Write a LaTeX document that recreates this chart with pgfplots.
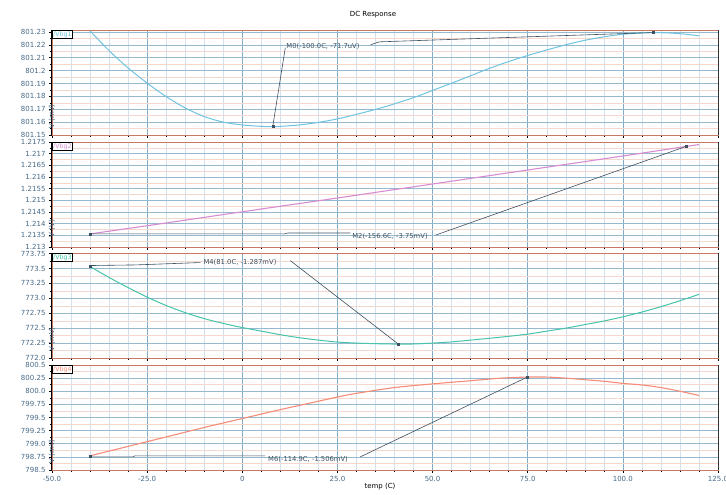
\documentclass[border=0pt]{standalone}
\usepackage{fontspec}
\setmainfont{DejaVu Sans}
\usepackage{pgfplots}
\pgfplotsset{compat=1.18}
\usepackage{pgfplotstable}
\definecolor{cA}{RGB}{110,195,225}
\definecolor{cB}{RGB}{215,140,210}
\definecolor{cC}{RGB}{70,195,170}
\definecolor{cD}{RGB}{245,140,120}
\definecolor{tickc}{RGB}{70,105,135}
\definecolor{frame}{RGB}{200,120,100}
\definecolor{hgrid}{RGB}{150,185,205}
\definecolor{vgrid}{RGB}{130,172,198}
\definecolor{mgridh}{RGB}{244,216,205}
\definecolor{mgridv}{RGB}{208,224,236}
\definecolor{mk}{RGB}{60,80,95}

\pgfplotstableread{
t v
-40 801.2308
-35 801.2155
-30 801.2020
-25 801.1903
-20 801.1798
-15 801.1710
-10 801.1643
-5 801.1600
0 801.1578
5 801.1567
8 801.1565
10 801.1567
15 801.1578
20 801.1598
25 801.1625
30 801.1660
37 801.1715
45 801.1790
50 801.1846
55 801.1902
60 801.1960
65 801.2018
70 801.2070
75 801.2117
80 801.2160
85 801.2200
90 801.2235
95 801.2262
100 801.2282
105 801.2292
108 801.2295
112 801.2292
116 801.2284
120 801.2270
}\vbgA

\pgfplotstableread{
t v
-40 1.21356
-20 1.21403
0 1.21451
25 1.21510
50 1.21570
75 1.21630
100 1.21690
116.6 1.21731
120 1.21739
}\vbgB

\pgfplotstableread{
t v
-40 773.533
-35 773.35
-30 773.18
-25 773.02
-20 772.88
-15 772.76
-10 772.66
-5 772.58
0 772.51
5 772.45
10 772.39
15 772.34
20 772.30
25 772.267
30 772.25
35 772.24
41 772.233
45 772.235
50 772.25
55 772.27
60 772.30
68 772.35
75 772.40
80 772.45
85 772.50
90 772.56
95 772.62
100 772.69
105 772.77
110 772.86
115 772.96
120 773.067
}\vbgC

\pgfplotstableread{
t v
-40 798.77
-35 798.86
-30 798.95
-25 799.04
-20 799.13
-10 799.31
0 799.48
10 799.65
20 799.81
25 799.89
30 799.96
40 800.07
50 800.14
60 800.20
68 800.25
74.9 800.27
80 800.27
85 800.25
90 800.22
95 800.19
100 800.15
105 800.12
110 800.07
115 800.00
120 799.92
}\vbgD

\pgfplotsset{
  panel/.style={
    scale only axis, width=666pt, height=105pt,
    xmin=-50, xmax=125,
    xtick={-50,-25,0,25,50,75,100,125},
    minor x tick num=4, minor y tick num=1,
    xmajorgrids, ymajorgrids, xminorgrids, yminorgrids,
    major x grid style={vgrid, line width=0.6pt},
    minor x grid style={mgridv, line width=0.4pt},
    major y grid style={hgrid, line width=0.6pt},
    minor y grid style={mgridh, line width=0.4pt},
    axis line style={frame, line width=0.7pt},
    tick style={black, line width=0.5pt},
    major tick length=3pt, minor tick length=2pt,
    tick align=outside,
    xtick pos=bottom, ytick pos=left,
    ticklabel style={font=\fontsize{7}{8}\selectfont, text=tickc},
    ylabel style={at={(axis description cs:0,0.5)}, anchor=center, xshift=-34pt, font=\fontsize{7}{8}\selectfont, text=tickc},
    xticklabels={},
    clip=false,
  },
  mline/.style={mk, line width=0.6pt},
  mdot/.style={only marks, mark=square*, mark size=1pt, mk},
}
\tikzset{
  mlab/.style={font=\fontsize{6.8}{8}\selectfont, text=mk, inner sep=1pt},
  tab/.style={draw=black, fill=white, font=\fontsize{6.3}{7}\selectfont, inner sep=1pt, anchor=north west, line width=0.5pt},
}

\begin{document}
\begin{tikzpicture}
\useasboundingbox (-52pt,-25pt) rectangle (674pt,470pt);

% Panel 4 (bottom)
\begin{axis}[panel, at={(0pt,0pt)}, anchor=south west,
  ymin=798.5, ymax=800.5,
  ytick={798.5,798.75,799.0,799.25,799.5,799.75,800.0,800.25,800.5},
  yticklabels={798.5,798.75,799.0,799.25,799.5,799.75,800.0,800.25,800.5},
  xticklabels={-50.0,-25.0,0,25.0,50.0,75.0,100.0,125.0},
  ylabel={V (mV)},
  xlabel={temp (C)},
  xlabel style={at={(axis description cs:0.4925,0)}, anchor=center, yshift=-17pt, font=\fontsize{7}{8}\selectfont, text=black},
]
\addplot[cD, line width=1.1pt, smooth] table[x=t,y=v] {\vbgD};
\addplot[mline] coordinates {(-40,798.75) (-28.7,798.75) (-28.2,798.77) (6,798.77)};
\addplot[mline] coordinates {(31,798.75) (74.9,800.27)};
\addplot[mdot] coordinates {(-40,798.77) (74.9,800.27)};
\node[mlab, anchor=west] at (axis cs:6.5,798.71) {M6(-114.9C, -1.506mV)};
\node[tab, text=cD] at (rel axis cs:0,1) {/Vbg4};
\draw[black, line width=1pt] (rel axis cs:0,0) -- (rel axis cs:0,1);
\draw[black!80, line width=0.8pt] (rel axis cs:1,0) -- (rel axis cs:1,1);
\end{axis}

% Panel 3
\begin{axis}[panel, at={(0pt,112pt)}, anchor=south west,
  ymin=772.0, ymax=773.76,
  ytick={772.0,772.25,772.5,772.75,773.0,773.25,773.5,773.75},
  yticklabels={772.0,772.25,772.5,772.75,773.0,773.25,773.5,773.75},
  ylabel={V (mV)},
]
\addplot[cC, line width=1pt, smooth] table[x=t,y=v] {\vbgC};
\addplot[mline] coordinates {(-40,773.55) (-28,773.56) (-11,773.60)};
\addplot[mline] coordinates {(12.6,773.633) (41,772.233)};
\addplot[mdot] coordinates {(-40,773.533) (41,772.233)};
\node[mlab, anchor=west] at (axis cs:-10.5,773.60) {M4(81.0C, -1.287mV)};
\node[tab, text=cC] at (rel axis cs:0,1) {/Vbg3};
\draw[black, line width=1pt] (rel axis cs:0,0) -- (rel axis cs:0,1);
\draw[black!80, line width=0.8pt] (rel axis cs:1,0) -- (rel axis cs:1,1);
\end{axis}

% Panel 2
\begin{axis}[panel, at={(0pt,223pt)}, anchor=south west,
  ymin=1.213, ymax=1.2175,
  ytick={1.213,1.2135,1.214,1.2145,1.215,1.2155,1.216,1.2165,1.217,1.2175},
  yticklabels={1.213,1.2135,1.214,1.2145,1.215,1.2155,1.216,1.2165,1.217,1.2175},
  ylabel={V (V)},
]
\addplot[cB, line width=1.1pt, smooth] table[x=t,y=v] {\vbgB};
\addplot[mline] coordinates {(-40,1.21356) (11,1.21356) (12,1.21360) (28.4,1.21360)};
\addplot[mline] coordinates {(50.8,1.21351) (116.6,1.21731)};
\addplot[mdot] coordinates {(-40,1.21356) (116.6,1.21731)};
\node[mlab, anchor=west] at (axis cs:28.6,1.21345) {M2(-156.6C, -3.75mV)};
\node[tab, text=cB] at (rel axis cs:0,1) {/Vbg2};
\draw[black, line width=1pt] (rel axis cs:0,0) -- (rel axis cs:0,1);
\draw[black!80, line width=0.8pt] (rel axis cs:1,0) -- (rel axis cs:1,1);
\end{axis}

% Panel 1 (top)
\begin{axis}[panel, at={(0pt,335pt)}, anchor=south west,
  ymin=801.15, ymax=801.2315,
  ytick={801.15,801.16,801.17,801.18,801.19,801.2,801.21,801.22,801.23},
  yticklabels={801.15,801.16,801.17,801.18,801.19,801.2,801.21,801.22,801.23},
  ylabel={V (mV)},
]
\addplot[cA, line width=1pt, smooth] table[x=t,y=v] {\vbgA};
\addplot[mline] coordinates {(8,801.1565) (11.3,801.2177)};
\addplot[mline] coordinates {(33.7,801.2200) (36,801.2223) (108,801.2295)};
\addplot[mdot] coordinates {(8,801.1565) (108,801.2295)};
\node[mlab, anchor=west] at (axis cs:11.3,801.2185) {M0(-100.0C, -71.7uV)};
\node[tab, text=cA] at (rel axis cs:0,1) {/Vbg1};
\draw[black, line width=1pt] (rel axis cs:0,0) -- (rel axis cs:0,1);
\draw[black!80, line width=0.8pt] (rel axis cs:1,0) -- (rel axis cs:1,1);
\node[font=\fontsize{7}{8}\selectfont] at (rel axis cs:0.482,1) [yshift=15pt] {DC Response};
\end{axis}
\end{tikzpicture}
\end{document}
